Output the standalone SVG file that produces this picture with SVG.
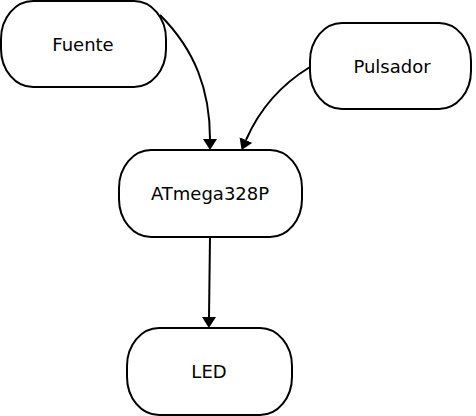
<svg xmlns="http://www.w3.org/2000/svg" width="476" height="416" viewBox="0 0 476 416">
<style>
.node rect{fill:#fff;stroke:#000;stroke-width:2}
.node text{font-family:"DejaVu Sans",Verdana,sans-serif;font-size:18px;fill:#000;text-anchor:middle}
.edge{fill:none;stroke:#000;stroke-width:2}
</style>
<defs>
<marker id="arr" viewBox="0 0 11 14" refX="0" refY="7" markerWidth="11" markerHeight="14" markerUnits="userSpaceOnUse" orient="auto">
<path d="M0,0 L11,7 L0,14 Z" fill="#000"/>
</marker>
</defs>
<rect width="476" height="416" fill="#fff"/>
<g id="edges">
<path class="edge" d="M160,15 C195,50 210,90 210,139" marker-end="url(#arr)"/>
<path class="edge" d="M310,67 C282,84 260,108 246,140" marker-end="url(#arr)"/>
<path class="edge" d="M210,237 L209,317" marker-end="url(#arr)"/>
</g>
<g id="fuente" class="node">
<rect x="1" y="1" width="165" height="86" rx="32" ry="38"/>
<text x="83" y="51">Fuente</text>
</g>
<g id="pulsador" class="node">
<rect x="310" y="23" width="161" height="86" rx="32" ry="38"/>
<text x="392" y="73">Pulsador</text>
</g>
<g id="atmega" class="node">
<rect x="119" y="150" width="183" height="87" rx="32" ry="38"/>
<text x="210" y="200">ATmega328P</text>
</g>
<g id="led" class="node">
<rect x="127" y="328" width="165" height="87" rx="32" ry="38"/>
<text x="209" y="378">LED</text>
</g>
</svg>
